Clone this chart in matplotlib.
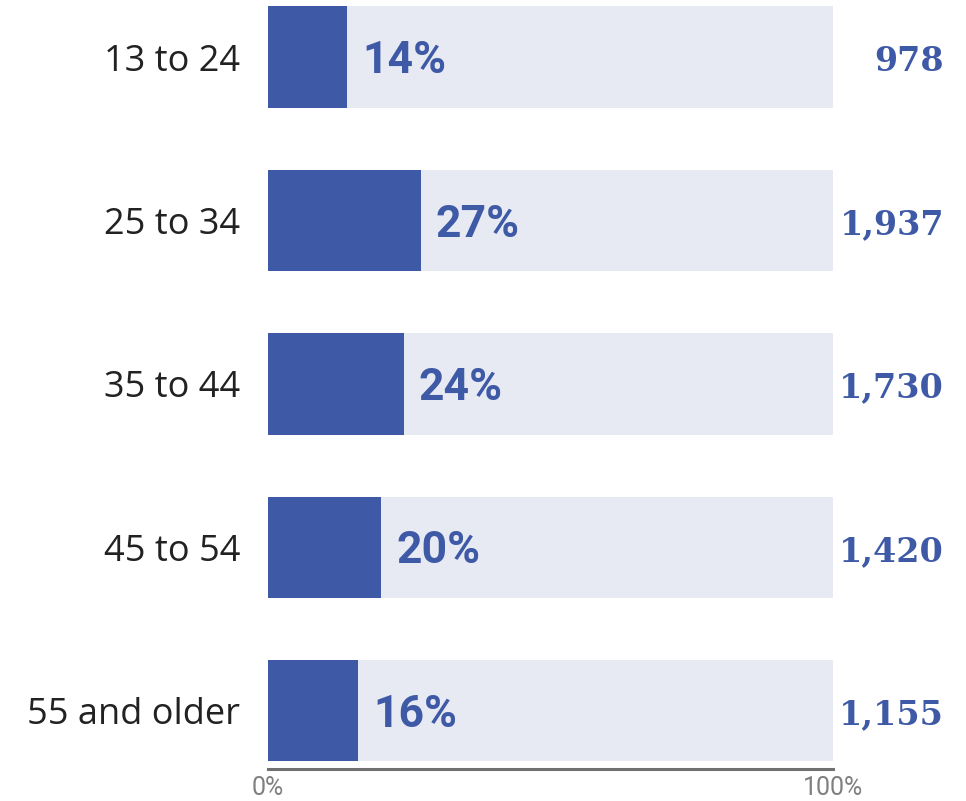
import matplotlib
matplotlib.use('Agg')
import matplotlib.pyplot as plt

# 各年龄段占比及人数
age_groups = ['13 to 24', '25 to 34', '35 to 44', '45 to 54', '55 and older']
shares = [14, 27, 24, 20, 16]
counts = [978, 1937, 1730, 1420, 1155]
x_ticks = [0, 100]
x_tick_labels = ['0%', '100%']

BLUE = '#3e59a6'
TRACK = '#e8eaf3'

fig = plt.figure(figsize=(9.66, 8.01), dpi=100)
ax = fig.add_axes([268 / 966, 32 / 801, 565 / 966, 769 / 801])

pos = list(range(len(age_groups)))
ax.barh(pos, [100] * len(pos), height=0.62, color=TRACK, zorder=1)
ax.barh(pos, shares, height=0.62, color=BLUE, zorder=2)

ax.set_xlim(0, 100)
ax.set_ylim(4.357, -0.349)

for side in ['top', 'right', 'left']:
    ax.spines[side].set_visible(False)
ax.spines['bottom'].set_color('#707070')
ax.spines['bottom'].set_linewidth(2.2)

ax.set_xticks(x_ticks, x_tick_labels)
ax.tick_params(axis='x', length=0, pad=5, labelsize=18, labelcolor='#808080')
ax.set_yticks(pos, age_groups)
ax.tick_params(axis='y', length=0, pad=20, labelsize=26, labelcolor='#222222')
for lbl in ax.get_xticklabels():
    lbl.set_family('Roboto')
for lbl in ax.get_yticklabels():
    lbl.set_family('Open Sans')

# 百分比标签，放在深色条右侧
for yi, s in zip(pos, shares):
    ax.annotate(f'{s}%', xy=(s, yi), xytext=(11, -3), textcoords='offset points',
                ha='left', va='center', fontsize=32, fontweight='bold',
                family='Roboto', color=BLUE, zorder=3)

# 右侧人数，右对齐在图右缘附近
for yi, c in zip(pos, counts):
    ax.annotate(f'{c:,}', xy=(100, yi), xytext=(80, -3), textcoords='offset points',
                ha='right', va='center', fontsize=24, fontweight='bold',
                family='DejaVu Serif', color=BLUE, annotation_clip=False)

fig.savefig('out.png', dpi=100)
